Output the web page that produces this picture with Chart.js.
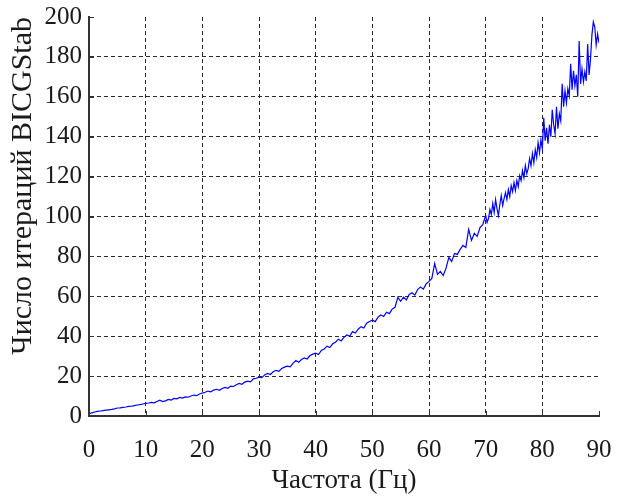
<!DOCTYPE html>
<html>
<head>
<meta charset="utf-8">
<script src="https://cdn.jsdelivr.net/npm/chart.js@4"></script>
<style>
  body { margin: 0; background: #fff; }
</style>
</head>
<body>
<canvas id="mychart" width="618" height="497"></canvas>
<script>
// data
// 0 .. 69.5 Hz, one value every 0.5 Hz
const lowStep = 0.5;
const iterationsLow = [
  1.0, 1.6, 2.0, 2.3, 2.5, 2.7, 2.9, 3.1, 3.3, 3.6,            // 0 - 4.5
  4.0, 4.1, 4.3, 4.5, 4.8, 4.9, 5.2, 5.5, 5.7, 6.0,            // 5 - 9.5
  6.3, 6.5, 6.8, 6.6, 7.3, 7.9, 7.2, 7.6, 8.3, 8.0,            // 10 - 14.5
  8.8, 8.6, 9.3, 9.0, 9.6, 9.4, 10.0, 10.5, 10.2, 11.0,        // 15
  11.5, 11.9, 12.5, 12.1, 13.0, 13.4, 12.9, 13.8, 14.3, 13.9,  // 20
  15.0, 14.8, 15.7, 16.3, 15.9, 17.0, 17.5, 17.1, 18.6, 18.9,  // 25
  19.5, 19.2, 20.6, 21.3, 20.8, 22.2, 22.9, 22.4, 23.8, 24.5,  // 30
  25.0, 24.6, 26.4, 27.8, 26.9, 28.3, 29.1, 28.6, 30.3, 31.0,  // 35
  31.5, 30.8, 32.9, 33.6, 35.0, 34.3, 36.2, 37.0, 38.5, 37.6,  // 40
  39.4, 40.6, 40.0, 42.3, 41.6, 43.5, 44.8, 44.1, 46.5, 47.4,  // 45
  48.0, 47.3, 49.5, 50.6, 49.9, 52.0, 51.3, 53.6, 54.5, 59.5,  // 50
  57.5, 59.6, 58.2, 60.9, 61.8, 60.6, 63.4, 64.7, 63.6, 66.2,  // 55
  67.5, 69.0, 76.5, 71.0, 72.5, 70.4, 74.0, 79.5, 77.5, 81.5,  // 60
  81.0, 83.5, 85.5, 84.5, 93.5, 88.0, 91.5, 90.0, 94.5, 96.0   // 65
];
// 70 .. 90 Hz, noisier, one value every 0.25 Hz
const highStart = 70;
const highStep = 0.25;
const iterationsHigh = [
  100.5, 97.0, 99.0, 103.5, 101.0, 106.5, 102.0, 108.5,        // 70
  104.0, 100.5, 106.0, 110.5, 105.5, 109.0, 112.0, 108.5,      // 72
  113.5, 110.0, 115.5, 112.5, 117.0, 113.0, 118.0, 115.0,      // 74
  120.5, 118.0, 123.0, 119.5, 125.5, 121.5, 124.0, 129.0,      // 76
  125.5, 131.5, 127.0, 133.5, 129.5, 137.0, 132.0, 138.5,      // 78
  134.0, 149.5, 138.0, 144.5, 136.5, 146.0, 140.0, 153.5,      // 80
  146.0, 141.5, 155.0, 144.0, 151.5, 148.0, 166.5, 155.0,      // 82
  163.0, 157.0, 164.0, 160.5, 176.5, 163.5, 173.0, 165.5,      // 84
  171.0, 160.0, 188.0, 166.5, 174.0, 167.5, 172.5, 168.0,      // 86
  186.5, 171.0, 179.0, 191.0, 197.5, 195.0, 186.0, 191.5,      // 88
  187.0                                                        // 90
];
const xTicks = [0, 10, 20, 30, 40, 50, 60, 70, 80, 90];
const yTicks = [0, 20, 40, 60, 80, 100, 120, 140, 160, 180, 200];

let points = iterationsLow.map((v, i) => ({x: i * lowStep, y: v}))
  .concat(iterationsHigh.map((v, i) => ({x: highStart + i * highStep, y: v})));
let serif = 'Liberation Serif, Times New Roman, serif';
let gridColor = (lastVal) => (ctx) => ctx.tick && ctx.tick.value === lastVal ? 'rgba(0,0,0,0)' : '#2a2a2a';

// little inward ticks like matlab draws
const innerTicks = {
  id: 'innerTicks',
  afterDraw(chart) {
    let c = chart.ctx, xs = chart.scales.x, ys = chart.scales.y, a = chart.chartArea;
    c.save();
    c.strokeStyle = '#333';
    c.lineWidth = 1;
    c.beginPath();
    xTicks.forEach(t => {
      let px = Math.round(xs.getPixelForValue(t)) + 0.5;
      c.moveTo(px, a.bottom); c.lineTo(px, a.bottom - 5);
    });
    yTicks.forEach(t => {
      let py = Math.round(ys.getPixelForValue(t)) + 0.5;
      c.moveTo(a.left, py); c.lineTo(a.left + 5, py);
    });
    c.stroke();
    c.restore();
  }
};

let myChart = document.getElementById('mychart').getContext('2d');
let iterChart = new Chart(myChart, {
  type: 'line',
  data: {
    datasets: [{
      label: 'BICGStab',
      data: points,
      borderColor: '#0000ff',
      borderWidth: 1.2,
      pointRadius: 0,
      tension: 0,
      fill: false
    }]
  },
  options: {
    responsive: false,
    animation: false,
    layout: { padding: { left: 0, top: 17, right: 19, bottom: 0 } },
    plugins: {
      legend: { display: false },
      tooltip: { enabled: false }
    },
    scales: {
      x: {
        type: 'linear',
        min: 0,
        max: 90,
        afterFit: (s) => { s.height = 81; s.paddingLeft = 0; s.paddingRight = 0; },
        afterBuildTicks: (s) => { s.ticks = xTicks.map(v => ({value: v})); },
        ticks: {
          color: '#1a1a1a',
          padding: 19,
          maxRotation: 0,
          font: { family: serif, size: 25 }
        },
        grid: { color: gridColor(90), lineWidth: 1, drawTicks: false },
        border: { display: true, color: '#333', width: 2, dash: [4, 3] },
        title: {
          display: true,
          text: 'Частота (Гц)',
          color: '#1a1a1a',
          padding: { top: 0, bottom: 0 },
          font: { family: serif, size: 27 }
        }
      },
      y: {
        min: 0,
        max: 200,
        afterFit: (s) => { s.width = 89; s.paddingTop = 0; s.paddingBottom = 0; },
        afterBuildTicks: (s) => { s.ticks = yTicks.map(v => ({value: v})); },
        ticks: {
          color: '#1a1a1a',
          padding: 7,
          font: { family: serif, size: 25 }
        },
        grid: { color: gridColor(200), lineWidth: 1, drawTicks: false },
        border: { display: true, color: '#333', width: 2, dash: [4, 3] },
        title: {
          display: true,
          text: 'Число итераций BICGStab',
          align: 'end',
          color: '#1a1a1a',
          padding: { top: 5, bottom: 0 },
          font: { family: serif, size: 30 }
        }
      }
    }
  },
  plugins: [innerTicks]
});
</script>
</body>
</html>
